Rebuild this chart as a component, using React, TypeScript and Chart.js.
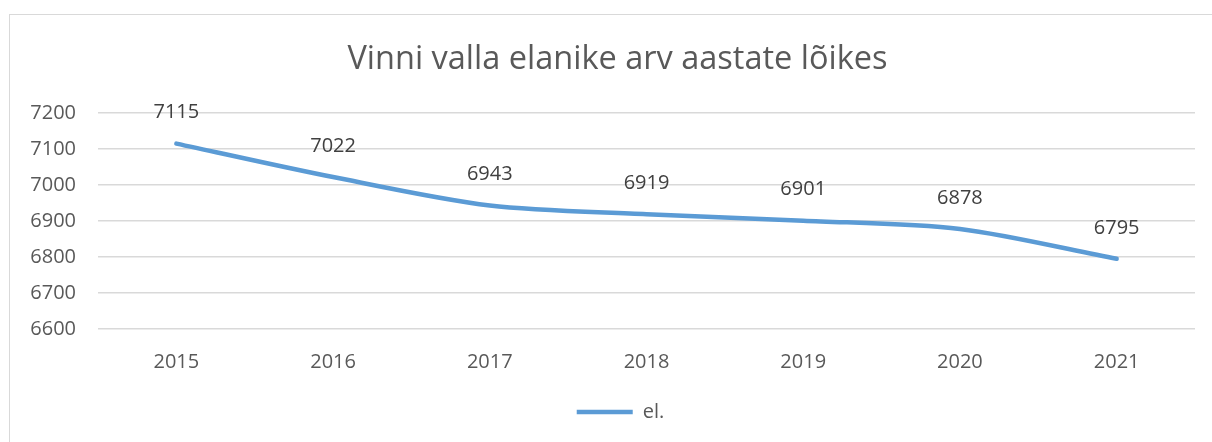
import { useEffect, useRef } from 'react';
import { Chart, registerables } from 'chart.js';

Chart.register(...registerables);

const chartTitle = 'Vinni valla elanike arv aastate lõikes';
const seriesName = 'el.';
const years = ['2015', '2016', '2017', '2018', '2019', '2020', '2021'];
const residents = [7115, 7022, 6943, 6919, 6901, 6878, 6795];
const yMin = 6600;
const yMax = 7200;
const yStep = 100;

const FONT = '"Open Sans", "Liberation Sans", sans-serif';

const pointLabels = {
  id: 'pointLabels',
  afterDatasetsDraw(chart: any) {
    const ctx = chart.ctx;
    chart.data.datasets.forEach((ds: any, i: number) => {
      const meta = chart.getDatasetMeta(i);
      meta.data.forEach((pt: any, j: number) => {
        ctx.save();
        ctx.font = `20px ${FONT}`;
        ctx.fillStyle = '#404040';
        ctx.textAlign = 'center';
        ctx.textBaseline = 'middle';
        ctx.fillText(String(ds.data[j]), pt.x, pt.y - 31);
        ctx.restore();
      });
    });
  },
};

// Centre the title and legend over the plot frame (as in the original), not over the whole canvas.
const centreBlocks = {
  id: 'centreBlocks',
  afterLayout(chart: any) {
    if (chart.titleBlock) chart.titleBlock.left = 40;
    if (chart.legend) chart.legend.left = 46;
  },
};

export default function App() {
  const ref = useRef<HTMLCanvasElement | null>(null);

  useEffect(() => {
    document.body.style.margin = '0';
    if (!ref.current) return;
    const chart = new Chart(ref.current, {
      type: 'line',
      data: {
        labels: years,
        datasets: [
          {
            label: seriesName,
            data: residents,
            borderColor: '#5B9BD5',
            backgroundColor: '#5B9BD5',
            borderWidth: 4.5,
            borderCapStyle: 'round',
            borderJoinStyle: 'round',
            pointRadius: 0,
            pointHoverRadius: 0,
            tension: 0.3,
            fill: false,
          },
        ],
      },
      options: {
        animation: false,
        responsive: false,
        devicePixelRatio: 1,
        layout: { padding: { left: 20, right: 17, top: 0, bottom: 10 } },
        plugins: {
          title: {
            display: true,
            text: chartTitle,
            color: '#595959',
            font: { family: FONT, size: 32.5, weight: 'normal' },
            padding: { top: 40.5, bottom: 33.5 },
          },
          legend: {
            display: true,
            position: 'bottom',
            labels: {
              color: '#595959',
              font: { family: FONT, size: 20 },
              usePointStyle: true,
              pointStyle: 'line',
              pointStyleWidth: 56,
              padding: 10,
            },
          },
          tooltip: { enabled: false },
        },
        scales: {
          x: {
            offset: true,
            grid: { display: false, drawTicks: false },
            border: { display: false },
            ticks: {
              color: '#595959',
              font: { family: FONT, size: 20 },
              padding: 21,
              maxRotation: 0,
            },
            afterFit: (s: any) => {
              s.height = 63;
            },
          },
          y: {
            min: yMin,
            max: yMax,
            grid: { color: '#d9d9d9', lineWidth: 1.5, drawTicks: false },
            border: { display: false },
            ticks: {
              stepSize: yStep,
              color: '#595959',
              font: { family: FONT, size: 20 },
              padding: 22,
              callback: (v: any) => String(v),
            },
            afterFit: (s: any) => {
              s.width = 78;
            },
          },
        },
      },
      plugins: [pointLabels, centreBlocks],
    });
    return () => chart.destroy();
  }, []);

  return (
    <div style={{ position: 'relative', width: 1212, height: 442, overflow: 'hidden', background: '#fff' }}>
      <div
        style={{
          position: 'absolute',
          left: 9,
          top: 14,
          width: 1300,
          height: 600,
          borderLeft: '1px solid #d9d9d9',
          borderTop: '1px solid #d9d9d9',
        }}
      />
      <canvas ref={ref} width={1212} height={442} style={{ position: 'absolute', left: 0, top: 0 }} />
    </div>
  );
}
